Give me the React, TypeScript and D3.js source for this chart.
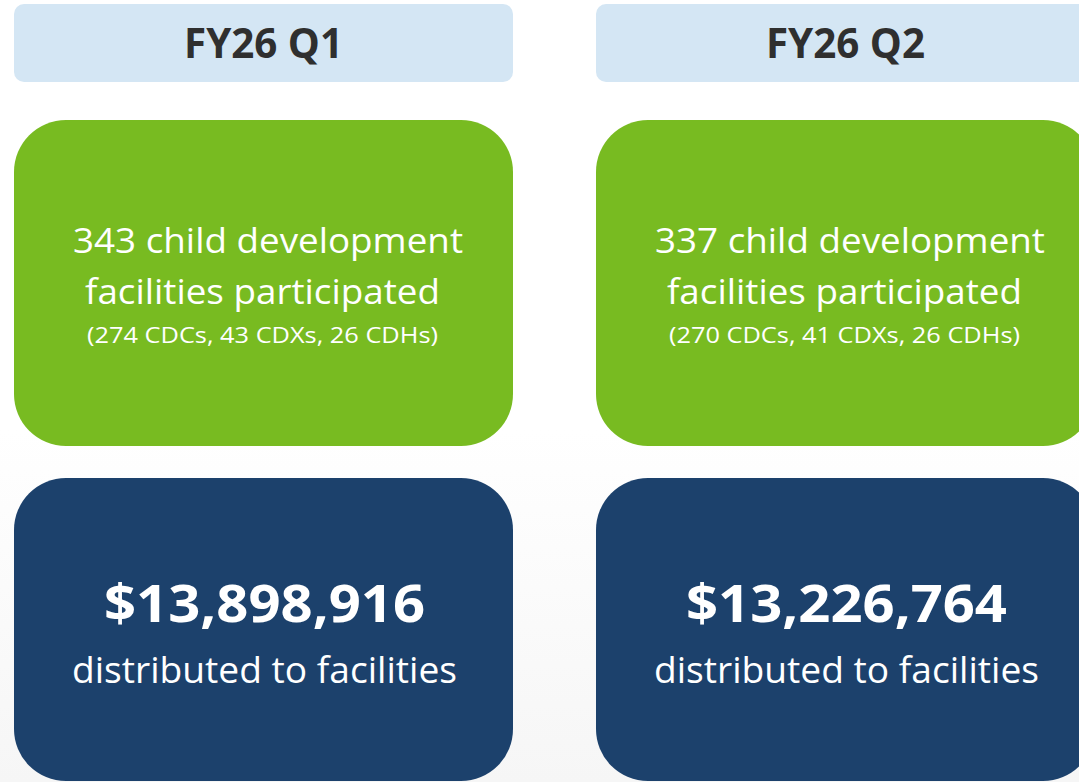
import React from "react";
import * as d3 from "d3";

const quarters = ["FY26 Q1", "FY26 Q2"];
const facilities = [343, 337];
const cdcs = [274, 270];
const cdxs = [43, 41];
const cdhs = [26, 26];
const distributed = [13898916, 13226764];

const W = 1079;
const H = 782;
const FONT = "'Open Sans', 'Noto Sans', sans-serif";

export default function App() {
  const x = d3.scaleBand<string>().domain(quarters).range([14, 1095]).paddingInner(0.1426).paddingOuter(0);
  const bw = x.bandwidth();
  const money = d3.format("$,");

  return (
    <svg width={W} height={H} style={{ position: "absolute", left: 0, top: 0 }} fontFamily={FONT}>
      <defs>
        <linearGradient id="bg" x1="0" y1="0" x2="0" y2="1">
          <stop offset="0" stopColor="#ffffff" />
          <stop offset="0.55" stopColor="#ffffff" />
          <stop offset="1" stopColor="#f6f6f6" />
        </linearGradient>
      </defs>
      <rect x={0} y={0} width={W} height={H} fill="url(#bg)" />
      {quarters.map((q, i) => {
        const x0 = x(q)!;
        const cx = x0 + bw / 2 + 1;
        return (
          <g key={q}>
            <rect x={x0} y={4} width={bw} height={78} rx={10} fill="#d4e6f4" />
            <text x={cx - 1} y={58} textAnchor="middle" fontSize={41} fontWeight={700} fill="#2f2f2f" textLength={159} lengthAdjust="spacingAndGlyphs">
              {q}
            </text>
            <rect x={x0} y={120} width={bw} height={326} rx={52} fill="#78bb21" />
            <text x={cx + 3.5} y={253} textAnchor="middle" fontSize={35} fill="#ffffff" textLength={390} lengthAdjust="spacingAndGlyphs">
              {`${facilities[i]} child development`}
            </text>
            <text x={cx - 2} y={304} textAnchor="middle" fontSize={35} fill="#ffffff" textLength={355} lengthAdjust="spacingAndGlyphs">
              facilities participated
            </text>
            <text x={cx - 2} y={343} textAnchor="middle" fontSize={22} fill="#ffffff" textLength={351} lengthAdjust="spacingAndGlyphs">
              {`(${cdcs[i]} CDCs, ${cdxs[i]} CDXs, ${cdhs[i]} CDHs)`}
            </text>
            <rect x={x0} y={478} width={bw} height={303} rx={52} fill="#1c416c" />
            <text x={cx} y={622} textAnchor="middle" fontSize={52} fontWeight={700} fill="#ffffff" textLength={321} lengthAdjust="spacingAndGlyphs">
              {money(distributed[i])}
            </text>
            <text x={cx} y={683} textAnchor="middle" fontSize={37} fill="#ffffff" textLength={385} lengthAdjust="spacingAndGlyphs">
              distributed to facilities
            </text>
          </g>
        );
      })}
    </svg>
  );
}
